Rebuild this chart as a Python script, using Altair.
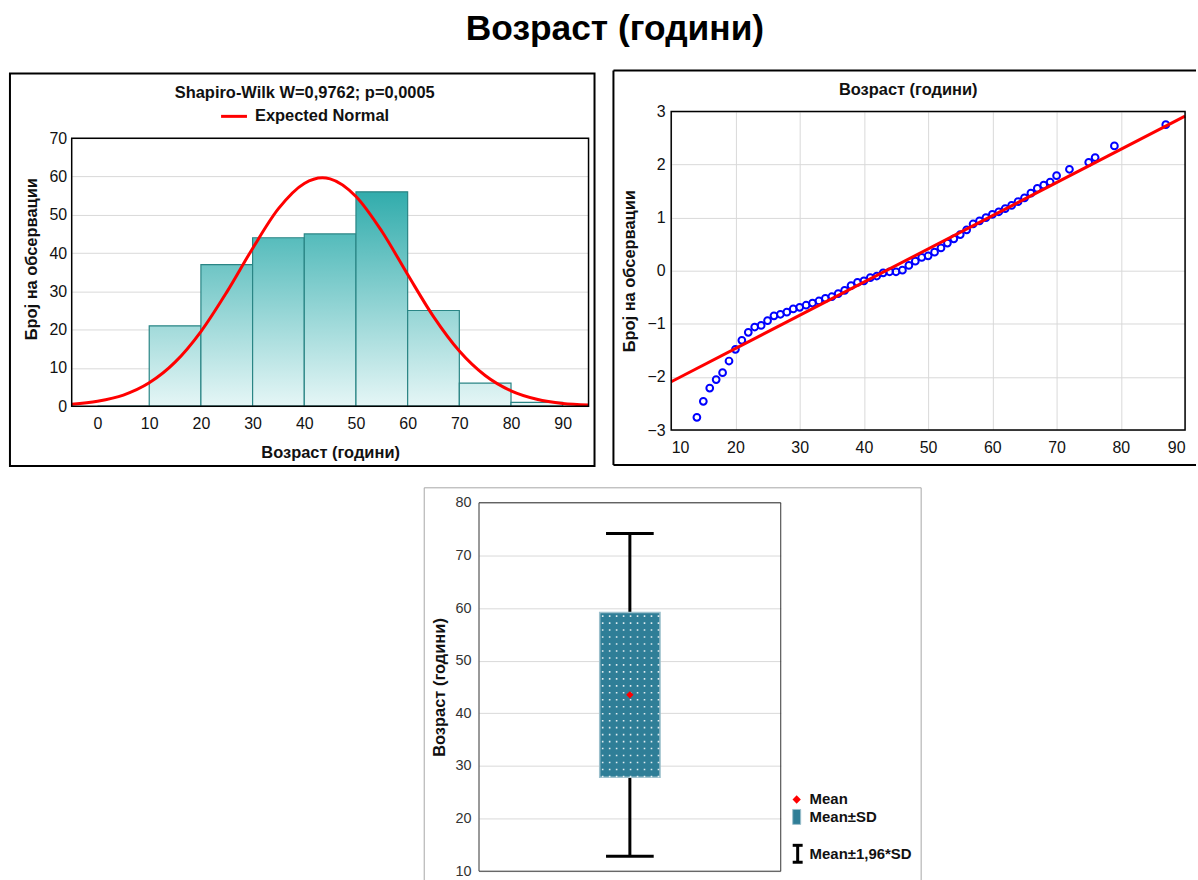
import altair as alt
import pandas as pd

FONT = "Liberation Sans"

# Age histogram, 10-year bins
bin_start = [0, 10, 20, 30, 40, 50, 60, 70, 80]
bin_count = [0, 21, 37, 44, 45, 56, 25, 6, 1]

# Expected normal curve (counts per 10-year bin)
curve_age = [-5, 0, 5, 10, 15, 20, 25, 30, 35, 40, 43.5, 45, 50, 55, 60, 65, 70, 75, 80, 85, 90, 95]
curve_count = [0.5, 1.3, 2.9, 6.1, 11.5, 19.5, 29.8, 41.2, 51.6, 58.2, 59.7, 59.4, 54.8,
               45.7, 34.4, 23.4, 14.4, 8.0, 4.0, 1.8, 0.7, 0.3]

# Normal probability plot: observed age vs expected normal value
qq_age = [14, 15, 16, 17, 18, 19, 20, 21, 22, 23, 24, 25, 26, 27, 28, 29, 30, 31, 32, 33,
          34, 35, 36, 37, 38, 39, 40, 41, 42, 43, 44, 45, 46, 47, 48, 49, 50, 51, 52, 53,
          54, 55, 56, 57, 58, 59, 60, 61, 62, 63, 64, 65, 66, 67, 68, 69, 70, 72, 75, 76,
          79, 87]
qq_z = [-2.76, -2.46, -2.21, -2.05, -1.92, -1.70, -1.48, -1.31, -1.16, -1.06, -1.03, -0.94,
        -0.85, -0.82, -0.78, -0.72, -0.69, -0.65, -0.61, -0.57, -0.52, -0.49, -0.43, -0.37,
        -0.28, -0.22, -0.19, -0.13, -0.10, -0.04, -0.02, -0.02, 0.01, 0.10, 0.18, 0.25,
        0.28, 0.35, 0.43, 0.52, 0.60, 0.68, 0.77, 0.88, 0.94, 1.00, 1.06, 1.11, 1.17, 1.23,
        1.30, 1.37, 1.46, 1.55, 1.61, 1.67, 1.79, 1.91, 2.04, 2.13, 2.35, 2.75]
ref_line_age = [10, 90]
ref_line_z = [-2.09, 2.91]

# Summary statistics
mean_age = 43.5
sd_age = 15.65

TITLE = "Возраст (години)"
Y_COUNT_TITLE = "Број на обсервации"
SW_TEXT = "Shapiro-Wilk W=0,9762; p=0,0005"
NORMAL_LABEL = "Expected Normal"
BOX_LEGEND = ["Mean", "Mean±SD", "Mean±1,96*SD"]

one = pd.DataFrame({"k": [0]})
GRID = "#d9d9d9"
INK = "#111111"
LBL = 16      # tick label size
TTL = 16.5    # bold title size


def bar_fill(t):
    lo = (229, 246, 246)
    hi = (36, 167, 167)
    return "#%02x%02x%02x" % tuple(round(a + (b - a) * t) for a, b in zip(lo, hi))


def box(x, x2, y, y2, **kw):
    return alt.Chart(one).mark_rect(**kw).encode(
        x=alt.value(x), x2=alt.value(x2), y=alt.value(y), y2=alt.value(y2))


def rule(x, x2, y, y2, **kw):
    return alt.Chart(one).mark_rule(**kw).encode(
        x=alt.value(x), x2=alt.value(x2), y=alt.value(y), y2=alt.value(y2))


def label(text, x, y, size=TTL, **kw):
    return alt.Chart(one).mark_text(text=text, font=FONT, fontSize=size, fontWeight="bold",
                                    baseline="middle", color=INK, **kw).encode(
        x=alt.value(x), y=alt.value(y))


# ---------------- histogram ----------------
# plot frame is 519 x 269 px; the view extends 27 px higher so that its
# top lines up with the probability plot next to it
H1, PLOT1 = 296, 269
hist = pd.DataFrame({"start": bin_start, "end": [s + 10 for s in bin_start], "count": bin_count})
curve = pd.DataFrame({"age": curve_age, "n": curve_count})
xs1 = alt.Scale(domain=[-5, 95], nice=False, zero=False)
ys1 = alt.Scale(domain=[0, 70 * H1 / PLOT1], nice=False, zero=False)
ax1 = alt.Axis(values=list(range(0, 100, 10)), title=TITLE, grid=False, ticks=False,
               domain=False, labelPadding=9, titlePadding=14)
ay1 = alt.Axis(values=list(range(0, 80, 10)), title=Y_COUNT_TITLE, grid=True, ticks=False,
               domain=False, labelPadding=5, titlePadding=10)

hist_layers = [
    box(-71, 525, -109, 356, opacity=0),
    box(-62, 525, -38, 356, fillOpacity=0, stroke="black", strokeWidth=2),
]
for i in range(len(hist)):
    grad = alt.LinearGradient(
        gradient="linear", x1=0, y1=0, x2=0, y2=1,
        stops=[alt.GradientStop(color=bar_fill(hist["count"][i] / 60), offset=0),
               alt.GradientStop(color=bar_fill(0), offset=1)])
    hist_layers.append(
        alt.Chart(hist.iloc[[i]]).mark_bar(color=grad, stroke="#2a8585", strokeWidth=1.2)
        .encode(x=alt.X("start:Q", scale=xs1, axis=ax1), x2="end:Q",
                y=alt.Y("count:Q", scale=ys1, axis=ay1), y2=alt.datum(0)))

hist_layers += [
    alt.Chart(curve).mark_line(color="#ff0000", strokeWidth=3, interpolate="monotone").encode(
        x=alt.X("age:Q", scale=xs1, axis=ax1), y=alt.Y("n:Q", scale=ys1, axis=ay1)),
    box(0, 519, H1 - PLOT1, H1, fillOpacity=0, stroke="black", strokeWidth=1.5),
    label(SW_TEXT, 234, -18, align="center"),
    rule(150, 176, 5, 5, color="#ff0000", strokeWidth=3),
    label(NORMAL_LABEL, 184, 5, align="left"),
]
p1 = alt.layer(*hist_layers).properties(width=519, height=H1)

# ---------------- normal probability plot ----------------
qq = pd.DataFrame({"age": qq_age, "z": qq_z})
ref = pd.DataFrame({"age": ref_line_age, "z": ref_line_z})
xs2 = alt.Scale(domain=[10, 90], nice=False, zero=False)
ys2 = alt.Scale(domain=[-3, 3], nice=False, zero=False)
ax2 = alt.Axis(values=list(range(10, 100, 10)), title=None, grid=True, ticks=False,
               domain=False, labelPadding=10)
ay2 = alt.Axis(values=list(range(-3, 4)), title=Y_COUNT_TITLE, grid=True, ticks=False,
               domain=False, labelPadding=6, titlePadding=10)

qq_points = alt.Chart(qq).mark_point(shape="circle", filled=False, color="#0000ff",
                                     size=46, strokeWidth=2, opacity=1).encode(
    x=alt.X("age:Q", scale=xs2, axis=ax2), y=alt.Y("z:Q", scale=ys2, axis=ay2))
qq_line = alt.Chart(ref).mark_line(color="#ff0000", strokeWidth=3).encode(
    x=alt.X("age:Q", scale=xs2, axis=ax2), y=alt.Y("z:Q", scale=ys2, axis=ay2))

p2 = alt.layer(
    box(-59, 527, -42, 356, opacity=0),
    rule(-58, 527, -41, -41, color="black", strokeWidth=2),
    rule(-58, 527, 355, 355, color="black", strokeWidth=2),
    rule(-58, -58, -41, 355, color="black", strokeWidth=2),
    qq_points,
    qq_line,
    box(0, 516, 0, 320, fillOpacity=0, stroke="black", strokeWidth=1.5),
    label(TITLE, 238, -21, align="center"),
).properties(width=516, height=320)

# ---------------- mean / SD plot ----------------
# horizontal layout of the single column, in fractions of the plot width
BOX_C, BOX_HALF, CAP_HALF = 0.5, 0.1, 0.079
stats = pd.DataFrame({
    "x": [BOX_C],
    "bx0": [BOX_C - BOX_HALF],
    "bx1": [BOX_C + BOX_HALF],
    "cx0": [BOX_C - CAP_HALF],
    "cx1": [BOX_C + CAP_HALF],
    "mean": [mean_age],
    "sd_lo": [mean_age - sd_age],
    "sd_hi": [mean_age + sd_age],
    "ci_lo": [mean_age - 1.96 * sd_age],
    "ci_hi": [mean_age + 1.96 * sd_age],
})
# dotted fill texture of the SD box: columns of white dots every 7 px
W3 = 303
dot_cols = pd.DataFrame({
    "x": [BOX_C - BOX_HALF + (3 + 7 * k) / W3 for k in range(9)],
    "sd_lo": mean_age - sd_age,
    "sd_hi": mean_age + sd_age,
})
xs3 = alt.Scale(domain=[0, 1], nice=False, zero=False)
ys3 = alt.Scale(domain=[10, 80], nice=False, zero=False)
ay3 = alt.Axis(values=list(range(10, 90, 10)), title=TITLE, grid=True, ticks=False,
               domain=False, labelPadding=8, titlePadding=8, labelFontSize=14.5,
               labelColor="#333333")
BOX_FILL = "#2f7e97"


def X3(f):
    return alt.X(f, type="quantitative", scale=xs3, axis=None)


def Y3(f):
    return alt.Y(f, type="quantitative", scale=ys3, axis=ay3)


whisker = alt.Chart(stats).mark_rule(color="black", strokeWidth=3).encode(
    x=X3("x"), y=Y3("ci_lo"), y2="ci_hi")
sd_box = alt.Chart(stats).mark_rect(color=BOX_FILL, stroke="#9cc0cc", strokeWidth=1.5).encode(
    x=X3("bx0"), x2="bx1", y=Y3("sd_lo"), y2="sd_hi")
dots = alt.Chart(dot_cols).mark_rule(color="white", strokeWidth=1.6, strokeDash=[1.6, 5.4],
                                     opacity=0.85).encode(
    x=X3("x"), y=Y3("sd_lo"), y2="sd_hi")
cap_lo = alt.Chart(stats).mark_rule(color="black", strokeWidth=3).encode(
    x=X3("cx0"), x2="cx1", y=Y3("ci_lo"))
cap_hi = alt.Chart(stats).mark_rule(color="black", strokeWidth=3).encode(
    x=X3("cx0"), x2="cx1", y=Y3("ci_hi"))
mean_pt = alt.Chart(stats).mark_point(shape="diamond", filled=True, color="#ff0000",
                                      size=55, opacity=1).encode(x=X3("x"), y=Y3("mean"))

p3 = alt.layer(
    box(-56, 444, -16, 380, opacity=0),
    rule(-55, 444, -15, -15, color="#a6a6a6", strokeWidth=1),
    rule(-55, -55, -15, 380, color="#a6a6a6", strokeWidth=1),
    rule(444, 444, -15, 380, color="#a6a6a6", strokeWidth=1),
    whisker, sd_box, dots, cap_lo, cap_hi, mean_pt,
    box(0, W3, 0, 370, fillOpacity=0, stroke="#333333", strokeWidth=1),
    alt.Chart(one).mark_point(shape="diamond", filled=True, color="#ff0000", size=70, opacity=1).encode(
        x=alt.value(319), y=alt.value(298)),
    box(315, 323, 308, 323, fill=BOX_FILL, stroke="#9cc0cc", strokeWidth=1),
    rule(320, 320, 344, 361, color="black", strokeWidth=3),
    rule(315, 325, 344, 344, color="black", strokeWidth=3),
    rule(315, 325, 361, 361, color="black", strokeWidth=3),
    label(BOX_LEGEND[0], 332, 298, size=15, align="left"),
    label(BOX_LEGEND[1], 332, 316, size=15, align="left"),
    label(BOX_LEGEND[2], 332, 353, size=15, align="left"),
).properties(width=W3, height=370)

# empty cell that pushes the mean/SD plot to the right
spacer = box(0, 1, 0, 1, opacity=0).properties(width=1, height=1)

chart = alt.vconcat(
    alt.hconcat(p1, p2, spacing=15),
    alt.hconcat(spacer, p3, spacing=350),
    spacing=18,
    title=alt.TitleParams(TITLE, fontSize=35.5, fontWeight="bold", font=FONT, anchor="middle",
                          dx=16, offset=-73, baseline="alphabetic", color="black"),
).properties(
    padding={"left": 0, "top": 0, "right": 0, "bottom": 0},
    background="white",
).configure_view(
    stroke="transparent"
).configure_axis(
    labelFont=FONT, titleFont=FONT, labelFontSize=LBL, titleFontSize=TTL, titleFontWeight="bold",
    labelColor=INK, titleColor=INK, gridColor=GRID, gridWidth=1,
).configure_text(font=FONT)

chart.save("out.html", embed_options={"renderer": "svg", "actions": False})
